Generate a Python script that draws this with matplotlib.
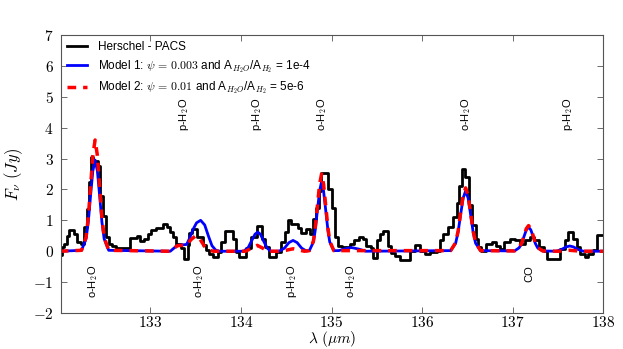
import matplotlib
matplotlib.use("Agg")
import matplotlib.pyplot as plt
from matplotlib.ticker import FuncFormatter, MultipleLocator

plt.rcParams['font.family'] = ['Liberation Sans', 'DejaVu Sans']
plt.rcParams['mathtext.fontset'] = 'cm'

# Herschel-PACS spectrum (left bin edges, flux)
herschel_x = [132.00, 132.02, 132.05, 132.075, 132.10, 132.16, 132.19, 132.23, 132.27, 132.30,
              132.32, 132.345, 132.37, 132.42, 132.445, 132.48, 132.51, 132.545, 132.58, 132.62,
              132.77, 132.85, 132.885, 132.93, 132.97, 133.01, 133.06, 133.135, 133.18, 133.215,
              133.245, 133.28, 133.34, 133.375, 133.41, 133.43, 133.465, 133.52, 133.58, 133.615,
              133.65, 133.69, 133.745, 133.78, 133.82, 133.91, 133.945, 133.98, 134.06, 134.11,
              134.175, 134.235, 134.27, 134.31, 134.39, 134.44, 134.49, 134.52, 134.555, 134.63,
              134.665, 134.72, 134.76, 134.795, 134.83, 134.86, 134.885, 134.96, 135.00, 135.035,
              135.075, 135.12, 135.20, 135.25, 135.30, 135.35, 135.385, 135.44, 135.46, 135.50,
              135.53, 135.57, 135.625, 135.66, 135.70, 135.755, 135.865, 135.92, 135.975, 136.03,
              136.085, 136.16, 136.195, 136.235, 136.29, 136.34, 136.38, 136.41, 136.445, 136.475,
              136.52, 136.555, 136.595, 136.62, 136.655, 136.71, 136.77, 136.82, 136.86, 136.90,
              136.97, 137.025, 137.08, 137.135, 137.19, 137.23, 137.285, 137.34, 137.375, 137.525,
              137.58, 137.615, 137.67, 137.71, 137.745, 137.80, 137.835, 137.89, 137.93, 138.00]
herschel_y = [-0.12, 0.14, 0.25, 0.48, 0.70, 0.57, 0.30, 0.22, 0.78, 1.38,
              2.25, 3.05, 2.93, 2.75, 1.80, 1.15, 0.46, 0.25, 0.18, 0.10,
              0.43, 0.50, 0.32, 0.41, 0.55, 0.68, 0.75, 0.89, 0.78, 0.62,
              0.46, 0.25, 0.09, -0.24, 0.19, 0.60, 0.73, 0.46, 0.19, 0.03,
              -0.08, -0.18, -0.02, 0.30, 0.64, 0.41, -0.02, -0.20, 0.10, 0.46,
              0.82, 0.41, 0.14, -0.18, -0.02, 0.30, 0.62, 1.00, 0.88, 0.75,
              0.58, 0.72, 0.55, 1.05, 1.40, 1.95, 2.52, 2.00, 1.40, 0.45,
              0.18, 0.14, 0.25, 0.35, 0.45, 0.40, 0.18, 0.10, -0.21, 0.35,
              0.55, 0.66, 0.17, -0.05, -0.15, -0.28, 0.00, 0.20, 0.00, -0.10,
              -0.04, 0.00, 0.35, 0.57, 0.80, 1.10, 1.55, 2.10, 2.66, 2.40,
              1.50, 0.85, 0.41, 0.14, 0.00, 0.25, 0.30, 0.17, 0.08, 0.30,
              0.41, 0.36, 0.25, 0.36, 0.46, 0.36, 0.14, 0.00, -0.26, 0.08,
              0.35, 0.62, 0.41, 0.14, -0.08, -0.18, -0.08, 0.03, 0.54, 0.54]

# Model 1 (blue)
model1_x = [132.00, 132.24, 132.29, 132.315, 132.34, 132.365, 132.39, 132.415, 132.44, 132.465,
            132.49, 132.54, 133.22, 133.26, 133.30, 133.40, 133.43, 133.47, 133.51, 133.555,
            133.60, 133.64, 133.68, 133.72, 133.76, 134.03, 134.08, 134.12, 134.155, 134.185,
            134.215, 134.25, 134.29, 134.33, 134.42, 134.48, 134.53, 134.575, 134.62, 134.67,
            134.72, 134.755, 134.80, 134.82, 134.845, 134.868, 134.89, 134.912, 134.935, 134.96,
            134.98, 135.025, 135.08, 135.15, 135.22, 135.30, 135.38, 136.315, 136.37, 136.3975,
            136.425, 136.4525, 136.48, 136.5075, 136.535, 136.5625, 136.59, 136.645, 137.02, 137.07,
            137.10, 137.125, 137.15, 137.175, 137.20, 137.225, 137.25, 137.275, 137.33, 137.48,
            137.54, 137.59, 137.63, 137.67, 137.72, 137.78, 138.00]
model1_y = [0.00, 0.03, 0.40, 0.95, 1.80, 2.60, 2.95, 2.60, 1.80, 0.95,
            0.40, 0.03, 0.00, 0.10, 0.19, 0.22, 0.40, 0.70, 0.92, 1.00,
            0.85, 0.50, 0.18, 0.04, 0.00, 0.00, 0.12, 0.35, 0.55, 0.62,
            0.55, 0.33, 0.10, 0.00, 0.00, 0.10, 0.28, 0.35, 0.28, 0.10,
            0.01, 0.02, 0.30, 0.68, 1.35, 1.95, 2.25, 1.95, 1.35, 0.68,
            0.30, 0.02, 0.02, 0.08, 0.12, 0.07, 0.00, 0.02, 0.26, 0.63,
            1.19, 1.72, 1.95, 1.72, 1.19, 0.63, 0.26, 0.02, 0.01, 0.11,
            0.25, 0.48, 0.69, 0.78, 0.69, 0.48, 0.25, 0.11, 0.01, 0.00,
            0.06, 0.14, 0.17, 0.14, 0.06, 0.00, 0.00]

# Model 2 (red dashed)
model2_x = [132.00, 132.24, 132.29, 132.315, 132.34, 132.365, 132.39, 132.415, 132.44, 132.465,
            132.49, 132.54, 133.22, 133.26, 133.30, 133.40, 133.45, 133.50, 133.55, 133.60,
            133.65, 133.70, 134.05, 134.12, 134.18, 134.24, 134.30, 134.45, 134.575, 134.70,
            134.755, 134.80, 134.82, 134.845, 134.868, 134.89, 134.912, 134.935, 134.96, 134.98,
            135.025, 136.315, 136.37, 136.3975, 136.425, 136.4525, 136.48, 136.5075, 136.535, 136.5625,
            136.59, 136.645, 137.02, 137.07, 137.10, 137.125, 137.15, 137.175, 137.20, 137.225,
            137.25, 137.275, 137.33, 137.50, 137.63, 137.76, 138.00]
model2_y = [0.00, 0.03, 0.45, 1.10, 2.10, 3.10, 3.60, 3.10, 2.10, 1.10,
            0.45, 0.03, 0.00, 0.10, 0.18, 0.20, 0.38, 0.50, 0.38, 0.15,
            0.03, 0.00, 0.00, 0.10, 0.19, 0.10, 0.00, 0.00, 0.08, 0.00,
            0.02, 0.33, 0.76, 1.50, 2.17, 2.50, 2.17, 1.50, 0.76, 0.33,
            0.02, 0.02, 0.28, 0.66, 1.25, 1.80, 2.05, 1.80, 1.25, 0.66,
            0.28, 0.02, 0.01, 0.12, 0.27, 0.51, 0.73, 0.83, 0.73, 0.51,
            0.27, 0.12, 0.01, 0.00, 0.03, 0.00, 0.00]

# line identifications
top_lines = ['p-H$_2$O', 'p-H$_2$O', 'o-H$_2$O', 'o-H$_2$O', 'p-H$_2$O']
top_pos = [133.37, 134.18, 134.90, 136.49, 137.615]
bottom_lines = ['o-H$_2$O', 'o-H$_2$O', 'p-H$_2$O', 'o-H$_2$O', 'CO']
bottom_pos = [132.37, 133.54, 134.56, 135.22, 137.18]

fig = plt.figure(figsize=(6.23, 3.49), dpi=100)
ax = fig.add_axes([0.0974, 0.103, 0.871, 0.797])

ax.step(herschel_x, herschel_y, where='post', color='black', lw=2,
        label='Herschel - PACS')
ax.plot(model1_x, model1_y, color='blue', lw=2,
        label=r'Model 1: $\psi\,=\,0.003$ and A$_{H_2O}$/A$_{H_2}$ = 1e-4')
ax.plot(model2_x, model2_y, color='red', lw=2.5, ls=(0, (2.5, 2)),
        label=r'Model 2: $\psi\,=\,0.01$ and A$_{H_2O}$/A$_{H_2}$ = 5e-6')

for lab, xp in zip(top_lines, top_pos):
    ax.text(xp, 4.42, lab, rotation=90, ha='center', va='center', fontsize=8)
for lab, xp in zip(bottom_lines, bottom_pos):
    ax.text(xp, -0.45, lab, rotation=90, ha='center', va='top', fontsize=8)

ax.set_xlim(132.01, 138.0)
ax.set_ylim(-2, 7)
ax.xaxis.set_major_locator(MultipleLocator(1))
ax.yaxis.set_major_locator(MultipleLocator(1))
fmt = FuncFormatter(lambda v, p: '$%d$' % round(v))
ax.xaxis.set_major_formatter(fmt)
ax.yaxis.set_major_formatter(fmt)
ax.tick_params(direction='in', top=True, right=True, length=4, width=0.6,
               labelsize=11, color='#555555', pad=1.5)
ax.tick_params(axis='y', pad=5)
for s in ax.spines.values():
    s.set_color('#555555')
    s.set_linewidth(0.8)

ax.set_xlabel(r'$\lambda\ (\mu m)$', fontsize=11, labelpad=-1)
ax.set_ylabel(r'$F_\nu\ (Jy)$', fontsize=12, labelpad=6)

ax.legend(loc='upper left', frameon=False, fontsize=8.5, handlelength=1.7,
          borderaxespad=0.15, labelspacing=0.42, handletextpad=0.9)

fig.savefig('out.png', dpi=100)
